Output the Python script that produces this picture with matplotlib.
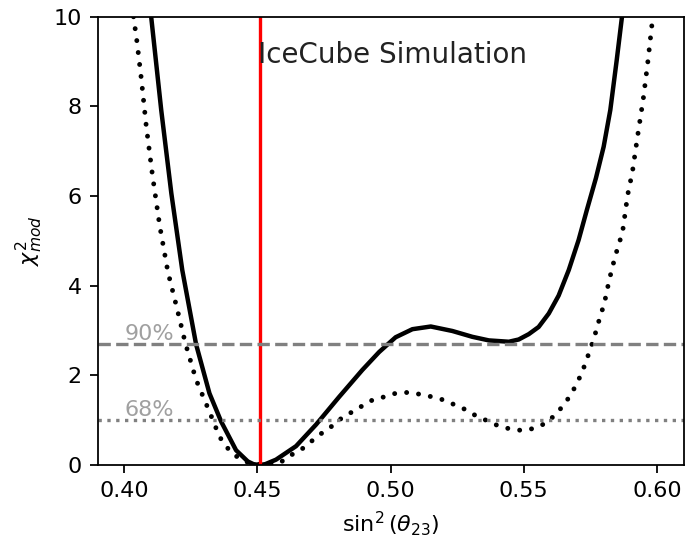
import matplotlib
matplotlib.use('Agg')
import matplotlib.pyplot as plt

# valeurs
solid_x = [0.4102, 0.4139, 0.4177, 0.4218, 0.4270, 0.4320, 0.4364, 0.4420, 0.4464,
           0.4485, 0.4508, 0.4530, 0.4570, 0.4645, 0.4720, 0.4807, 0.4894, 0.4957,
           0.5019, 0.5082, 0.5151, 0.5232, 0.5307, 0.5369, 0.5444, 0.5481, 0.5519,
           0.5556, 0.5594, 0.5631, 0.5669, 0.5706, 0.5737, 0.5771, 0.5800, 0.5825,
           0.5849, 0.5868]
solid_y = [9.96, 7.92, 6.06, 4.35, 2.69, 1.60, 0.97, 0.33, 0.08,
           0.02, 0.0, 0.02, 0.12, 0.42, 0.90, 1.52, 2.12, 2.52,
           2.85, 3.03, 3.09, 2.99, 2.86, 2.78, 2.75, 2.80, 2.92,
           3.08, 3.38, 3.78, 4.35, 5.02, 5.69, 6.40, 7.10, 7.92,
           9.03, 9.96]

dotted_x = [0.4035, 0.4048, 0.4064, 0.4083, 0.4106, 0.4133, 0.4164, 0.4198, 0.4230,
            0.4270, 0.4320, 0.4358, 0.4383, 0.4414, 0.4458, 0.4520, 0.4582, 0.4626,
            0.4670, 0.4732, 0.4776, 0.4813, 0.4857, 0.4894, 0.4932, 0.4976, 0.5019,
            0.5066, 0.5109, 0.5157, 0.5200, 0.5242, 0.5284, 0.5323, 0.5366, 0.5406,
            0.5452, 0.5496, 0.5541, 0.5581, 0.5619, 0.5647, 0.5675, 0.5696, 0.5716,
            0.5733, 0.5747, 0.5762, 0.5775, 0.5787, 0.5802, 0.5821, 0.5843, 0.5871,
            0.5890, 0.5908, 0.5928, 0.5949, 0.5966, 0.5981, 0.5985]
dotted_y = [10.0, 9.44, 8.63, 7.55, 6.47, 5.35, 4.31, 3.50, 2.71,
            1.90, 1.19, 0.63, 0.41, 0.22, 0.07, 0.0, 0.04, 0.22,
            0.37, 0.67, 0.85, 1.03, 1.19, 1.32, 1.45, 1.52, 1.60,
            1.62, 1.58, 1.52, 1.45, 1.34, 1.23, 1.09, 0.98, 0.87,
            0.80, 0.77, 0.82, 0.93, 1.12, 1.32, 1.55, 1.78, 2.03,
            2.29, 2.54, 2.80, 3.06, 3.32, 3.59, 4.13, 4.65, 5.20,
            6.02, 6.54, 7.36, 8.18, 9.00, 9.81, 10.0]

true_value = 0.451
cl_levels = [2.7, 1.0]
cl_labels = ['90%', '68%']

fig = plt.figure(figsize=(687 / 160, 543 / 160), dpi=160)
ax = fig.add_axes([0.142, 0.1436, 0.853, 0.8256])

ax.plot(solid_x, solid_y, color='black', lw=2, solid_joinstyle='round')
ax.plot(dotted_x, dotted_y, color='black', lw=2.2, ls=(0, (0.01, 2.45)),
        dash_capstyle='round')
ax.axvline(true_value, color='red', lw=1.5)

ax.axhline(cl_levels[0], color='gray', lw=1.5, ls='--')
ax.axhline(cl_levels[1], color='gray', lw=1.5, ls=':')
ax.text(0.40, cl_levels[0] + 0.1, cl_labels[0], color='#a0a0a0', fontsize=10)
ax.text(0.40, cl_levels[1] + 0.1, cl_labels[1], color='#a0a0a0', fontsize=10)

ax.text(0.4501, 8.96, 'IceCube Simulation', fontsize=12.5, color='#222222')

ax.set_xlim(0.39, 0.61)
ax.set_ylim(0, 10)
ax.set_xticks([0.40, 0.45, 0.50, 0.55, 0.60])
ax.set_xlabel(r'$\sin^2(\theta_{23})$')
ax.set_ylabel(r'$\chi^2_{mod}$')

fig.savefig('out.png', dpi=160)
